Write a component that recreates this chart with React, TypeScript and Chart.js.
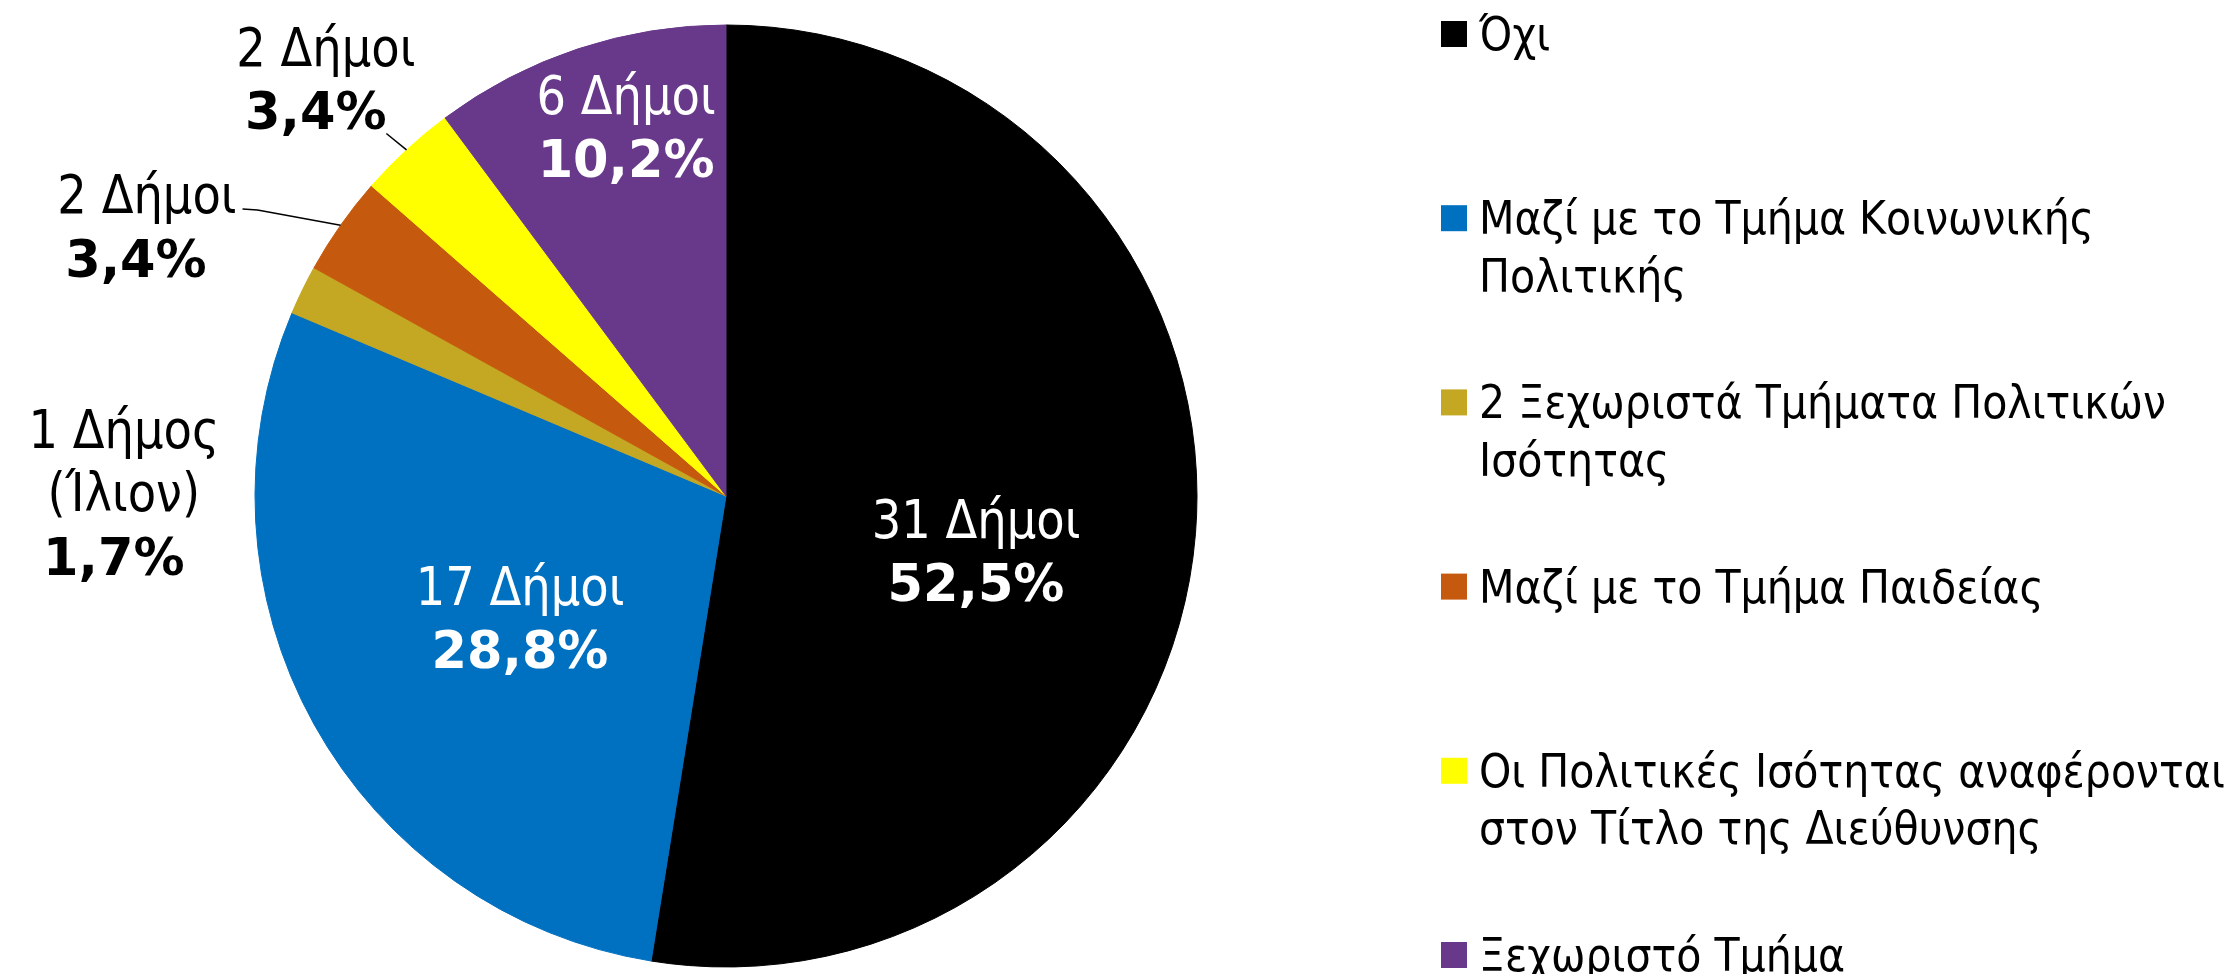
import React, { useEffect, useRef } from 'react';
import { Chart, registerables } from 'chart.js';

Chart.register(...registerables);

// ---------- data ----------
const categories: string[][] = [
  ['Όχι'],
  ['Μαζί με το Τμήμα Κοινωνικής', 'Πολιτικής'],
  ['2 Ξεχωριστά Τμήματα Πολιτικών', 'Ισότητας'],
  ['Μαζί με το Τμήμα Παιδείας'],
  ['Οι Πολιτικές Ισότητας αναφέρονται', 'στον Τίτλο της Διεύθυνσης'],
  ['Ξεχωριστό Τμήμα'],
];
const municipalities: number[] = [31, 17, 1, 2, 2, 6];
const notes: string[] = ['', '', '(Ίλιον)', '', '', ''];

// ---------- styles ----------
const sliceColors = ['#000000', '#0070C0', '#C4A722', '#C55A0E', '#FFFF00', '#68388A'];
const labelTextColors = ['#FFFFFF', '#FFFFFF', '#000000', '#000000', '#000000', '#FFFFFF'];
// label placement relative to each slice: angle offset (deg) from slice middle, distance in radii
const labelPlacement = [
  { dAngle: 7.6, dist: 0.543, leader: false, regShift: 0, boldShift: 0 },
  { dAngle: -1.4, dist: 0.507, leader: false, regShift: 0, boldShift: 0 },
  { dAngle: -25.5, dist: 1.285, leader: false, regShift: 3, boldShift: -7 },
  { dAngle: -10.2, dist: 1.367, leader: true, regShift: 5, boldShift: -6 },
  { dAngle: -1.4, dist: 1.236, leader: true, regShift: 5, boldShift: -5 },
  { dAngle: 3.2, dist: 0.814, leader: false, regShift: 0, boldShift: 0 },
];

const FONT = '"DejaVu Sans", Verdana, sans-serif';
const REG_SIZE = 54;
const BOLD_SIZE = 51;
const REG_SX = 0.86;
const BOLD_SX = 1.0;
const LINE_GAP = 63.5;
const LEG_SIZE = 47;
const LEG_SX = 0.875;

function drawScaledText(
  ctx: CanvasRenderingContext2D,
  text: string,
  x: number,
  y: number,
  font: string,
  sx: number,
  align: CanvasTextAlign,
  color: string
) {
  ctx.save();
  ctx.translate(x, y);
  ctx.scale(sx, 1);
  ctx.font = font;
  ctx.textAlign = align;
  ctx.textBaseline = 'alphabetic';
  ctx.fillStyle = color;
  ctx.fillText(text, 0, 0);
  ctx.restore();
}

function measureScaled(ctx: CanvasRenderingContext2D, text: string, font: string, sx: number) {
  ctx.save();
  ctx.font = font;
  const w = ctx.measureText(text).width * sx;
  ctx.restore();
  return w;
}

const sliceLabelPlugin = {
  id: 'sliceLabels',
  afterDatasetsDraw(chart: any) {
    const ctx: CanvasRenderingContext2D = chart.ctx;
    const ds = chart.data.datasets[0];
    const values: number[] = ds.data;
    const total = values.reduce((a, b) => a + b, 0);
    const meta = chart.getDatasetMeta(0);
    meta.data.forEach((arc: any, i: number) => {
      const p = arc.getProps(['x', 'y', 'startAngle', 'endAngle', 'outerRadius'], true);
      const mid = (p.startAngle + p.endAngle) / 2;
      const place = labelPlacement[i];
      const ang = mid + (place.dAngle * Math.PI) / 180;
      const cx = p.x + Math.cos(ang) * place.dist * p.outerRadius;
      const cy = p.y + Math.sin(ang) * place.dist * p.outerRadius;
      const v = values[i];
      const countLine = v === 1 ? `${v} Δήμος` : `${v} Δήμοι`;
      const pct = ((v / total) * 100).toFixed(1).replace('.', ',') + '%';
      const lines: { t: string; bold: boolean }[] = [{ t: countLine, bold: false }];
      if (notes[i]) lines.push({ t: notes[i], bold: false });
      lines.push({ t: pct, bold: true });
      const n = lines.length;
      const capTop = REG_SIZE * 0.73;
      const b1 = cy - ((n - 1) * LINE_GAP - capTop) / 2;
      const regFont = `${REG_SIZE}px ${FONT}`;
      const boldFont = `bold ${BOLD_SIZE}px ${FONT}`;
      const firstW = measureScaled(ctx, lines[0].t, regFont, REG_SX);
      let maxW = 0;
      lines.forEach((ln) => {
        const w = ln.bold
          ? measureScaled(ctx, ln.t, boldFont, BOLD_SX)
          : measureScaled(ctx, ln.t, regFont, REG_SX);
        maxW = Math.max(maxW, w);
      });
      if (place.leader) {
        const ex = p.x + Math.cos(mid) * p.outerRadius;
        const ey = p.y + Math.sin(mid) * p.outerRadius;
        const top = b1 - capTop;
        const bottom = b1 + (n - 1) * LINE_GAP + 4;
        const hw = maxW / 2 + 4;
        const hh = (bottom - top) / 2;
        const bcy = (top + bottom) / 2;
        const dx = ex - cx;
        const dy = ey - bcy;
        const tx = dx !== 0 ? hw / Math.abs(dx) : Infinity;
        const ty = dy !== 0 ? hh / Math.abs(dy) : Infinity;
        ctx.save();
        ctx.strokeStyle = '#000000';
        ctx.lineWidth = 1.5;
        ctx.beginPath();
        if (tx < ty) {
          // leave from the side of the first line with a short horizontal stub
          const dir = Math.sign(dx);
          const sx0 = cx + place.regShift + dir * (firstW / 2 + 6);
          const sy0 = b1 - 4;
          ctx.moveTo(sx0, sy0);
          ctx.lineTo(sx0 + dir * 15, sy0 + 1);
          ctx.lineTo(ex, ey);
        } else {
          const t = ty;
          ctx.moveTo(cx + dx * t, bcy + dy * t);
          ctx.lineTo(ex, ey);
        }
        ctx.stroke();
        ctx.restore();
      }
      lines.forEach((ln, k) => {
        const by = b1 + k * LINE_GAP;
        if (ln.bold)
          drawScaledText(ctx, ln.t, cx + place.boldShift, by, boldFont, BOLD_SX, 'center', labelTextColors[i]);
        else
          drawScaledText(ctx, ln.t, cx + place.regShift, by, regFont, REG_SX, 'center', labelTextColors[i]);
      });
    });
  },
};

const legendPlugin = {
  id: 'sideLegend',
  afterDraw(chart: any) {
    const ctx: CanvasRenderingContext2D = chart.ctx;
    const labels: string[][] = chart.data.labels;
    const cols: string[] = chart.data.datasets[0].backgroundColor;
    const boxX = 1441;
    const textX = 1479;
    const firstBaseline = 50;
    const step = 184.2;
    const lineH = 57.5;
    const font = `${LEG_SIZE}px ${FONT}`;
    labels.forEach((lines, i) => {
      const base = firstBaseline + i * step;
      ctx.save();
      ctx.fillStyle = cols[i];
      ctx.fillRect(boxX, base - 29, 26, 26);
      ctx.restore();
      lines.forEach((t, k) => {
        drawScaledText(ctx, t, textX, base + k * lineH, font, LEG_SX, 'left', '#000000');
      });
    });
  },
};

export default function App() {
  const canvasRef = useRef<HTMLCanvasElement | null>(null);

  useEffect(() => {
    document.body.style.margin = '0';
    const canvas = canvasRef.current;
    if (!canvas) return;
    const chart = new Chart(canvas, {
      type: 'pie',
      data: {
        labels: categories as any,
        datasets: [
          {
            data: municipalities,
            backgroundColor: sliceColors,
            borderColor: sliceColors,
            borderWidth: 1,
          },
        ],
      },
      options: {
        responsive: false,
        animation: false,
        devicePixelRatio: 1,
        radius: 471,
        layout: { padding: { left: 255, right: 1030, top: 25, bottom: 7 } },
        plugins: {
          legend: { display: false },
          tooltip: { enabled: false },
          title: { display: false },
        },
      } as any,
      plugins: [sliceLabelPlugin, legendPlugin],
    });
    return () => chart.destroy();
  }, []);

  return (
    <div style={{ position: 'absolute', left: 0, top: 0, width: 2227, height: 974, background: '#ffffff', overflow: 'hidden' }}>
      <canvas ref={canvasRef} width={2227} height={974} style={{ display: 'block', width: 2227, height: 974 }} />
    </div>
  );
}
